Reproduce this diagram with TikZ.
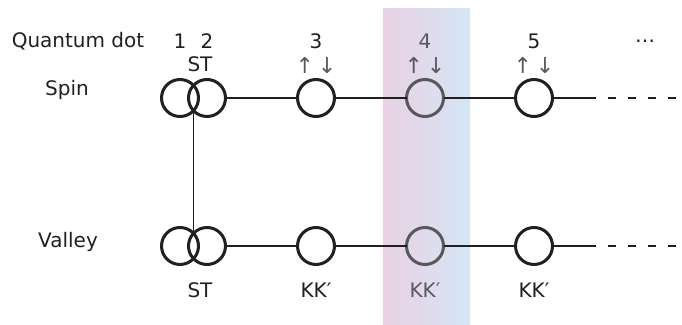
\documentclass[tikz,border=0pt]{standalone}
\usepackage{fontspec}
\setmainfont{DejaVu Sans}
\usetikzlibrary{
  calc,
  positioning
}
\definecolor{ink}{RGB}{35,31,32}
\definecolor{dim}{RGB}{88,89,91}
\definecolor{bandpink}{RGB}{234,208,228}
\definecolor{bandblue}{RGB}{212,230,245}
\tikzset{
%
  % For the lines between the dots.
  line/.style={
    ink,
    line width=1.5pt},
%
  % For the open end of a chain.
  tail/.style={
    line,
    dash pattern=on 8pt off 12pt},
%
  % For the quantum dots.
  dot/.style={
    circle,
    draw=ink,
    line width=3pt,
    minimum size=37pt,
    inner sep=0pt,
    outer sep=0pt},
%
  % For the highlighted dot.
  dim dot/.style={
    dot,
    draw=dim},
%
  % For texts in general.
  txt/.style={
    ink,
    inner sep=0pt},
%
  % For the spin arrows.
  spins/.style={
    txt,
    dim,
    font=\fontsize{22}{24}\selectfont}
}

\begin{document}
\begin{tikzpicture}[x=1pt, y=-1pt,
                    font=\fontsize{20}{24}\selectfont]
  \useasboundingbox (0,0) rectangle (682,324);
  \shade[left color=bandpink, right color=bandblue]
    (383,8) rectangle (470,324);

  \coordinate (numrow) at (0,41);
  \coordinate (spinrow) at (0,65);
  \coordinate (kkrow) at (0,290);

  \node[dot] (s1) at (180,98) {};
  \node[dot] (s2) [right=-10pt of s1] {};
  \node[dot] (s3) [right=72pt of s2] {};
  \node[dim dot] (s4) [right=72pt of s3] {};
  \node[dot] (s5) [right=72pt of s4] {};
  \coordinate (send) at (588,98);
  \coordinate (sfar) at (682,98);

  \node[dot] (v1) [below=111pt of s1] {};
  \node[dot] (v2) [right=-10pt of v1] {};
  \node[dot] (v3) [right=72pt of v2] {};
  \node[dim dot] (v4) [right=72pt of v3] {};
  \node[dot] (v5) [right=72pt of v4] {};
  \coordinate (vend) at (588,246);
  \coordinate (vfar) at (682,246);

  \draw[line] (s2) -- (s3) -- (s4) -- (s5) -- (send);
  \draw[tail] (send) -- (sfar);
  \draw[line] (v2) -- (v3) -- (v4) -- (v5) -- (vend);
  \draw[tail] (vend) -- (vfar);
  \draw[line] (s1.-43) -- (v1.43);

  \node[txt] (title) at (78,41) {Quantum dot};
  \node[txt] (spin) at (67,90) {Spin};
  \node[txt] (valley) at (68,242) {Valley};

  \node[txt] (n1) at (s1 |- numrow) {1};
  \node[txt] (n2) at (s2 |- numrow) {2};
  \node[txt] (n3) at (s3 |- numrow) {3};
  \node[txt, dim] (n4) at (s4 |- numrow) {4};
  \node[txt] (n5) at (s5 |- numrow) {5};
  \node[txt] (more) at (645,41) {…};

  \node[txt] (sst) at (200,64) {ST};
  \node[spins] (a3) at (s3 |- spinrow) {↑\hspace{4pt}↓};
  \node[spins] (a4) at (s4 |- spinrow) {↑\hspace{4pt}↓};
  \node[spins] (a5) at (s5 |- spinrow) {↑\hspace{4pt}↓};

  \node[txt] (vst) at (200,290) {ST};
  \node[txt] (k3) at (v3 |- kkrow) {KK′};
  \node[txt, dim] (k4) at (v4 |- kkrow) {KK′};
  \node[txt] (k5) at (v5 |- kkrow) {KK′};
\end{tikzpicture}
\end{document}
